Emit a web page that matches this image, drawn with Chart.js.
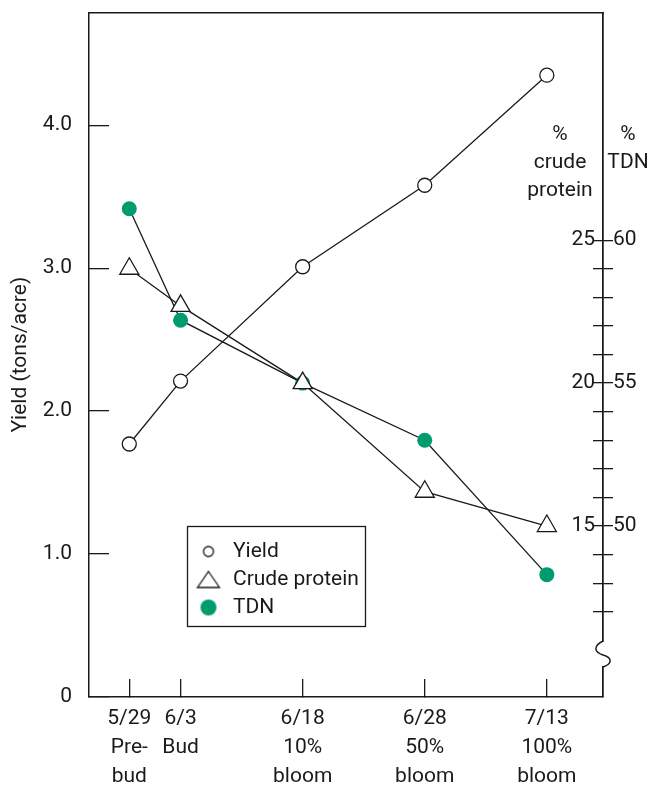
<!DOCTYPE html>
<html>
<head>
<meta charset="utf-8">
<title>Alfalfa yield and quality by harvest stage</title>
<script src="https://cdn.jsdelivr.net/npm/chart.js@4.4.1/dist/chart.umd.min.js"></script>
<style>
  html, body { margin: 0; padding: 0; background: #fff; }
  #wrap { position: relative; width: 650px; height: 789px; }
</style>
</head>
<body>
<div id="wrap"><canvas id="stageCanvas"></canvas></div>
<script>
// ---- data ----
var harvestDates = ['5/29', '6/3', '6/18', '6/28', '7/13'];
var growthStages = [['Pre-', 'bud'], ['Bud'], ['10%', 'bloom'], ['50%', 'bloom'], ['100%', 'bloom']];
var stagePos = [0, 0.42, 1.42, 2.42, 3.42];      // stages are not evenly spaced on the x axis
var yieldTons = [1.77, 2.21, 3.01, 3.58, 4.35];
var crudeProtein = [24.0, 22.7, 20.0, 16.2, 15.0];
var tdnPct = [61.1, 57.2, 55.0, 53.0, 48.3];
var yieldTicks = [0, 1, 2, 3, 4];
var proteinTicks = [12, 13, 14, 15, 16, 17, 18, 19, 20, 21, 22, 23, 24, 25];
var tdnTicks = [47, 48, 49, 50, 51, 52, 53, 54, 55, 56, 57, 58, 59, 60];

var INK = '#1a1a1a';
var GREEN = '#009b6e';
var FONT = 'Roboto, "Liberation Sans", Arial, sans-serif';

// right axes share the left axis spacing: 1 yield unit = 5 % units, 15 % crude protein sits at 1.196
var YIELD_MAX = 4.79;
var PROT_MIN = 15 - 1.196 * 5;
var PROT_MAX = PROT_MIN + YIELD_MAX * 5;
var TDN_OFFSET = 35;   // 50 % TDN lines up with 15 % crude protein

Chart.defaults.font.family = FONT;
Chart.defaults.font.size = 21;
Chart.defaults.color = INK;

function points(values) {
    return values.map(function (v, i) { return { x: stagePos[i], y: v }; });
}

function fixedTicks(list) {
    return function (scale) {
        scale.ticks = list.map(function (v) { return { value: v }; });
    };
}

// fixed axis box size; drop the label padding so the plot fills the frame
function boxSize(w, h) {
    return function (s) {
        if (w !== null) s.width = w;
        if (h !== null) s.height = h;
        s.paddingTop = 0; s.paddingBottom = 0;
        s.paddingLeft = 0; s.paddingRight = 0;
    };
}

// small canvases for the legend symbols (they differ in size in the original)
function legendMarker(kind) {
    var c = document.createElement('canvas');
    var g = c.getContext('2d');
    if (kind === 'triangle') {
        c.width = 26; c.height = 20;
        g.lineWidth = 1.3; g.strokeStyle = INK;
        g.beginPath();
        g.moveTo(13, 2); g.lineTo(24, 18); g.lineTo(2, 18); g.closePath();
        g.fillStyle = '#fff'; g.fill(); g.stroke();
    } else if (kind === 'dot') {
        c.width = 20; c.height = 20;
        g.beginPath(); g.arc(10, 10, 8, 0, Math.PI * 2);
        g.fillStyle = GREEN; g.fill();
    } else {
        c.width = 14; c.height = 14;
        g.lineWidth = 1.3; g.strokeStyle = INK;
        g.beginPath(); g.arc(7, 7, 5, 0, Math.PI * 2);
        g.fillStyle = '#fff'; g.fill(); g.stroke();
    }
    return c;
}
var legendMarkers = [legendMarker('circle'), legendMarker('triangle'), legendMarker('dot')];

var figureExtras = {
    id: 'figureExtras',
    beforeDraw: function (chart) {
        // park the legend inside the plot, lower left
        var lg = chart.legend;
        lg.left = 187.5; lg.top = 534;
        lg.right = 366; lg.bottom = 700;
        lg.width = lg.right - lg.left; lg.height = lg.bottom - lg.top;
    },
    afterDraw: function (chart) {
        var ctx = chart.ctx;
        var area = chart.chartArea;
        ctx.save();
        ctx.strokeStyle = INK;
        ctx.lineWidth = 1.3;
        ctx.strokeRect(187.5, 526.5, 178, 100);

        ctx.fillStyle = INK;
        ctx.font = '21px ' + FONT;
        ctx.textAlign = 'center';
        ctx.textBaseline = 'middle';
        ['%', 'crude', 'protein'].forEach(function (t, i) { ctx.fillText(t, 560, 135 + i * 28); });
        ['%', 'TDN'].forEach(function (t, i) { ctx.fillText(t, 628, 135 + i * 28); });

        // axis break on the right axis
        var x = area.right;
        ctx.fillStyle = '#fff';
        ctx.fillRect(x - 4, 642, 8, 24);
        ctx.lineWidth = 1.5;
        ctx.beginPath();
        ctx.moveTo(x, 641);
        ctx.bezierCurveTo(x - 10, 646, x - 9, 652, x, 655);
        ctx.bezierCurveTo(x + 10, 658, x + 9, 664, x, 667);
        ctx.stroke();
        ctx.restore();
    }
};

var canvas = document.getElementById('stageCanvas');
var ctx = canvas.getContext('2d');

var stageChart = new Chart(ctx, {
    type: 'line',
    data: {
        datasets: [
            {
                label: 'Yield',
                data: points(yieldTons),
                yAxisID: 'y',
                borderColor: INK,
                borderWidth: 1.3,
                pointStyle: 'circle',
                pointRadius: 7,
                pointBorderWidth: 1.3,
                pointBackgroundColor: '#fff',
                pointBorderColor: INK
            },
            {
                label: 'Crude protein',
                data: points(crudeProtein),
                yAxisID: 'yProtein',
                borderColor: INK,
                borderWidth: 1.3,
                pointStyle: 'triangle',
                pointRadius: 11,
                pointBorderWidth: 1.3,
                pointBackgroundColor: '#fff',
                pointBorderColor: INK
            },
            {
                label: 'TDN',
                data: points(tdnPct),
                yAxisID: 'yTdn',
                borderColor: INK,
                borderWidth: 1.3,
                pointStyle: 'circle',
                pointRadius: 7.5,
                pointBorderWidth: 0,
                pointBackgroundColor: GREEN,
                pointBorderColor: GREEN
            }
        ]
    },
    options: {
        responsive: true,
        maintainAspectRatio: false,
        animation: false,
        layout: { padding: { top: 12, left: 0, right: 0, bottom: 0 } },
        plugins: {
            tooltip: { enabled: false },
            legend: {
                position: 'chartArea',
                align: 'start',
                labels: {
                    usePointStyle: true,
                    pointStyleWidth: 28,
                    padding: 7,
                    font: { size: 21 },
                    color: INK,
                    generateLabels: function (chart) {
                        var items = Chart.defaults.plugins.legend.labels.generateLabels(chart);
                        items.forEach(function (it, i) { it.pointStyle = legendMarkers[i]; });
                        return items;
                    }
                }
            }
        },
        scales: {
            x: {
                type: 'linear',
                min: -0.33,
                max: 3.88,
                afterBuildTicks: fixedTicks(stagePos),
                afterFit: boxSize(null, 92),
                ticks: {
                    autoSkip: false,
                    maxRotation: 0,
                    padding: 25,
                    font: { size: 21, lineHeight: 1.38 },
                    callback: function (v, i) { return [harvestDates[i]].concat(growthStages[i]); }
                },
                grid: { drawOnChartArea: false, tickLength: -18, color: INK, lineWidth: 1.3 },
                border: { color: INK, width: 1.5 }
            },
            xTop: {
                type: 'linear',
                position: 'top',
                ticks: { display: false },
                grid: { display: false },
                border: { color: INK, width: 1.5 },
                afterFit: boxSize(null, 0)
            },
            y: {
                min: 0,
                max: YIELD_MAX,
                afterBuildTicks: fixedTicks(yieldTicks),
                afterFit: boxSize(89, null),
                ticks: {
                    padding: 37,
                    callback: function (v) { return v === 0 ? '0' : v.toFixed(1); }
                },
                grid: { drawOnChartArea: false, tickLength: -20, color: INK, lineWidth: 1.3 },
                border: { color: INK, width: 1.5 },
                title: {
                    display: true,
                    text: 'Yield (tons/acre)',
                    font: { size: 21 },
                    padding: { top: 8, bottom: 0 }
                }
            },
            yProtein: {
                position: 'right',
                min: PROT_MIN,
                max: PROT_MAX,
                afterBuildTicks: fixedTicks(proteinTicks),
                afterFit: boxSize(0, null),
                ticks: {
                    mirror: true,
                    padding: -8,
                    callback: function (v) { return v % 5 === 0 ? String(v) : ''; }
                },
                grid: { drawOnChartArea: false, tickLength: -10, color: INK, lineWidth: 1.3 },
                border: { color: INK, width: 1.5 }
            },
            yTdn: {
                position: 'right',
                min: PROT_MIN + TDN_OFFSET,
                max: PROT_MAX + TDN_OFFSET,
                afterBuildTicks: fixedTicks(tdnTicks),
                afterFit: boxSize(47, null),
                ticks: {
                    padding: 0,
                    callback: function (v) { return v % 5 === 0 ? String(v) : ''; }
                },
                grid: { drawOnChartArea: false, tickLength: 10, color: INK, lineWidth: 1.3 },
                border: { color: INK, width: 1.5 }
            }
        }
    },
    plugins: [figureExtras]
});
</script>
</body>
</html>
